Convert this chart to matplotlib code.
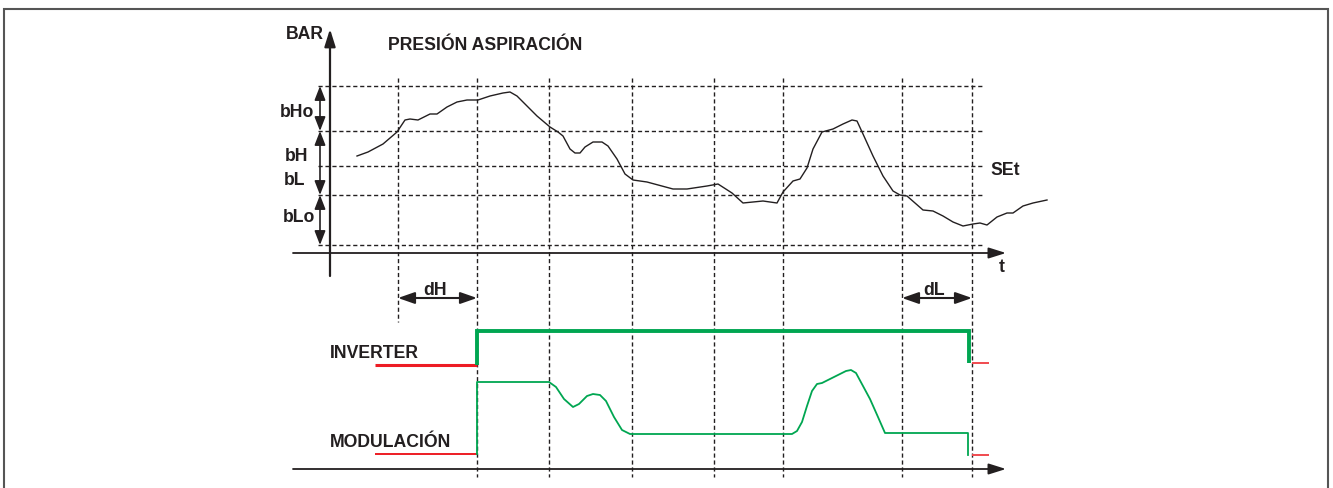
import matplotlib
matplotlib.use("Agg")
import matplotlib.pyplot as plt

# ---------------- data (picture units) ----------------
event_t = [398, 477, 549, 632, 714, 783, 902, 972]          # vertical dashed guides
levels = [87, 132, 167, 196, 246]                            # horizontal dashed thresholds

pressure_t = [357, 368, 383, 397, 405, 410, 418, 430, 437, 447, 457, 467, 478, 490,
              503, 510, 517, 527, 537, 550, 558, 563, 570, 575, 580, 585, 593, 602,
              608, 617, 625, 633, 647, 673, 687, 707, 718, 732, 743, 753, 763, 770,
              777, 783, 793, 800, 807, 813, 822, 833, 843, 852, 857, 863, 873, 883,
              893, 900, 907, 923, 933, 943, 953, 963, 973, 980, 987, 997, 1007, 1013,
              1023, 1033, 1047]
pressure_v = [157, 153, 145, 133, 121, 120, 121, 115, 115, 108, 103, 101, 101, 97,
              94, 93, 97, 107, 117, 128, 133, 137, 150, 154, 154, 148, 143, 143,
              147, 160, 175, 181, 183, 190, 190, 187, 185, 194, 204, 203, 202, 203,
              204, 193, 182, 180, 169, 150, 133, 130, 125, 121, 122, 135, 157, 177,
              192, 196, 197, 211, 212, 217, 223, 227, 225, 224, 226, 218, 214, 214,
              207, 204, 201]

inverter_t = [477, 477, 969, 969]
inverter_v = [366, 332, 332, 364]

mod_t = [477, 477, 549, 556, 564, 573, 579, 587, 593, 600, 606, 614, 622, 630,
         792, 797, 802, 807, 812, 817, 822, 830, 838, 846, 851, 856, 863, 870,
         878, 885, 968, 968]
mod_v = [455, 383, 383, 388, 400, 408, 405, 397, 395, 396, 402, 418, 431, 435,
         435, 432, 423, 407, 392, 385, 384, 380, 376, 372, 371, 374, 387, 400,
         418, 434, 434, 456]

off_before_t = [375, 477]
off_after_t = [972, 989]
inverter_off = [366, 364]
mod_off = [455, 456]

# ---------------- styling ----------------
INK = "#231f20"
GREEN = "#00a651"
RED = "#ed1c24"
RED_L = "#f04a4f"
FONT = ["Liberation Sans", "DejaVu Sans"]
FS = 12.7

W, H = 1333, 489
fig = plt.figure(figsize=(W / 100, H / 100), dpi=100)
ax = fig.add_axes([0, 0, 1, 1])
ax.set_xlim(0, W)
ax.set_ylim(H, 0)
ax.axis("off")

# outer frame (left, top, right)
ax.plot([4, 4, 1328, 1328], [H, 10, 10, H], color="#555555", lw=1.5,
        solid_joinstyle="miter")

dash = (0, (3, 2))
# horizontal dashed threshold lines
for lv in levels:
    ax.plot([318, 982], [lv, lv], color=INK, lw=1.0, linestyle=dash)
# vertical dashed guides
for i, t in enumerate(event_t):
    bottom = 323 if i == 0 else 478
    ax.plot([t, t], [79, bottom], color=INK, lw=1.0, linestyle=dash)


def arrow(x0, y0, x1, y1, style="-|>", lw=1.3, hl=1.0, hw=0.35, color=INK):
    ax.annotate("", xy=(x1, y1), xytext=(x0, y0),
                arrowprops=dict(arrowstyle=f"{style},head_length={hl},head_width={hw}",
                                lw=lw, color=color, shrinkA=0, shrinkB=0,
                                mutation_scale=10))


# axes of the pressure panel
arrow(330, 277, 330, 30, lw=1.6, hl=1.05, hw=0.33)
arrow(293, 254, 1006, 254, lw=1.3, hl=1.05, hw=0.33)
# time axis of the signal panel
arrow(293, 470, 1006, 470, lw=1.3, hl=1.05, hw=0.33)

# band arrows at left
arrow(320, levels[0], 320, levels[1], style="<|-|>", lw=1.2, hl=0.85, hw=0.33)
arrow(320, levels[1], 320, levels[3], style="<|-|>", lw=1.2, hl=0.85, hw=0.33)
arrow(320, levels[3], 320, levels[4], style="<|-|>", lw=1.2, hl=0.85, hw=0.33)

# dH / dL arrows
arrow(event_t[0], 299, event_t[1], 299, style="<|-|>", lw=1.5, hl=1.0, hw=0.35)
arrow(event_t[6], 299, event_t[7], 299, style="<|-|>", lw=1.5, hl=1.0, hw=0.35)

# pressure curve
ax.plot(pressure_t, pressure_v, color=INK, lw=1.0, solid_joinstyle="round")

# inverter signal
ax.plot(off_before_t, [inverter_off[0]] * 2, color=RED, lw=2.2, solid_capstyle="butt")
ax.plot(inverter_t, inverter_v, color=GREEN, lw=2.8, solid_joinstyle="miter",
        solid_capstyle="butt")
ax.plot(off_after_t, [inverter_off[1]] * 2, color=RED_L, lw=1.4, solid_capstyle="butt")

# modulation signal
ax.plot(off_before_t, [mod_off[0]] * 2, color=RED, lw=1.4, solid_capstyle="butt")
ax.plot(mod_t, mod_v, color=GREEN, lw=1.3, solid_joinstyle="round")
ax.plot(off_after_t, [mod_off[1]] * 2, color=RED_L, lw=1.4, solid_capstyle="butt")

# texts
def txt(x, y, s, ha="center"):
    ax.text(x, y, s, ha=ha, va="baseline", fontsize=FS, fontweight="bold",
            color=INK, family=FONT)

txt(324, 39, "BAR", ha="right")
txt(388, 50, "PRESIÓN ASPIRACIÓN", ha="left")
txt(297, 117, "bHo")
txt(297, 161, "bH")
txt(295, 185, "bL")
txt(299, 222, "bLo")
txt(1005, 175, "SEt")
txt(1002, 272, "t")
txt(435, 295, "dH")
txt(934, 295, "dL")
txt(330, 358, "INVERTER", ha="left")
txt(330, 447, "MODULACIÓN", ha="left")

fig.savefig("out.png", dpi=100)
